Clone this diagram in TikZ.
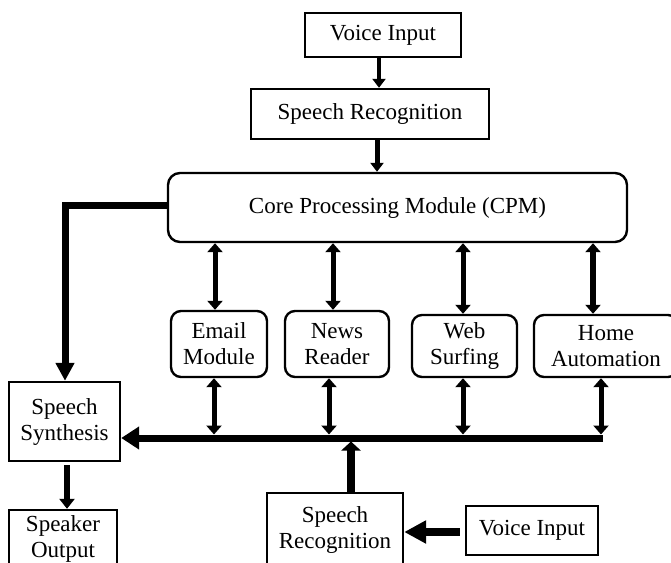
\documentclass[tikz,border=0pt]{standalone}
\usepackage{fontspec}
\setmainfont{Liberation Serif}
\usetikzlibrary{arrows.meta}
\begin{document}
\begin{tikzpicture}[x=1pt,y=-1pt,
  box/.style={draw, line width=2.4pt, align=center, inner sep=0pt,
              font=\fontsize{23}{26}\selectfont},
  rbox/.style={box, rounded corners=10pt},
  dbl/.style={line width=5pt,
              {Triangle[length=9pt,width=15pt]}-{Triangle[length=9pt,width=15pt]}},
  flow/.style={line width=#1}]
\useasboundingbox (0,0) rectangle (671,562);
\clip (0,0) rectangle (671,562);

% blocks
\node[box, minimum width=156pt, minimum height=44pt] (vin1) at (383,35) {Voice Input};
\node[box, minimum width=238pt, minimum height=50pt] (sr1) at (370,114) {Speech Recognition};
\node[rbox, rounded corners=12pt, minimum width=459pt, minimum height=69pt] (cpm) at (397.5,207.5) {Core Processing Module (CPM)};
\node[rbox, minimum width=96pt, minimum height=66pt] (email) at (219,344) {Email\\Module};
\node[rbox, minimum width=104pt, minimum height=66pt] (news) at (337,344) {News\\Reader};
\node[rbox, minimum width=105pt, minimum height=62pt] (web) at (464.5,346) {Web\\Surfing};
\node[rbox, minimum width=144pt, minimum height=62pt] (home) at (606,346) {Home\\Automation};
\node[box, minimum width=111pt, minimum height=79pt] (synth) at (64.5,421.5) {Speech\\Synthesis};
\node[box, minimum width=108pt, minimum height=57pt] (spk) at (63,538.5) {Speaker\\Output};
\node[box, minimum width=136pt, minimum height=73pt] (sr2) at (335,529.5) {Speech\\Recognition};
\node[box, minimum width=132pt, minimum height=49pt] (vin2) at (532,530.5) {Voice Input};

% bus and routing points
\coordinate (busR) at (603,438);
\coordinate (busTop) at (0,434.5);
\coordinate (busBot) at (0,441.5);
\coordinate (fb) at (65,205);

% top chain
\draw[flow=4.5pt, -{Triangle[length=9pt,width=13pt]}] (379,0 |- vin1.south) -- (379,0 |- sr1.north);
\draw[flow=5pt, -{Triangle[length=9pt,width=13pt]}] (377,0 |- sr1.south) -- (377,0 |- cpm.north);

% CPM <-> modules
\draw[dbl] (215,0 |- cpm.south) -- (215,0 |- email.north);
\draw[dbl] (333,0 |- cpm.south) -- (333,0 |- news.north);
\draw[dbl] (463,0 |- cpm.south) -- (463,0 |- web.north);
\draw[dbl, line width=6pt] (593,0 |- cpm.south) -- (593,0 |- home.north);

% modules <-> bus
\draw[dbl] (214,0 |- email.south) -- (214,0 |- busTop);
\draw[dbl] (329,0 |- news.south) -- (329,0 |- busTop);
\draw[dbl] (463,0 |- web.south) -- (463,0 |- busTop);
\draw[dbl] (601,0 |- home.south) -- (601,0 |- busTop);

% bus into speech synthesis
\draw[flow=7pt, -{Triangle[length=18pt,width=22pt]}] (busR) -- (synth.east |- busR);

% lower recognition up to the bus
\draw[flow=8pt, -{Triangle[length=9pt,width=19pt]}] (351,0 |- sr2.north) -- (351,0 |- busBot);

% CPM feedback to speech synthesis
\draw[flow=7pt, -{Triangle[length=18pt,width=18pt]}] (cpm.west |- fb) -- (fb) -- (fb |- synth.north);

% synthesis to speaker
\draw[flow=6pt, -{Triangle[length=10pt,width=15pt]}, shorten <=3pt] (67,0 |- synth.south) -- (67,0 |- spk.north);

% voice input into lower recognition
\draw[flow=8pt, -{Triangle[length=22pt,width=22pt]}, shorten <=5pt] (vin2.west |- 0,532) -- (sr2.east |- 0,532);
\end{tikzpicture}
\end{document}
